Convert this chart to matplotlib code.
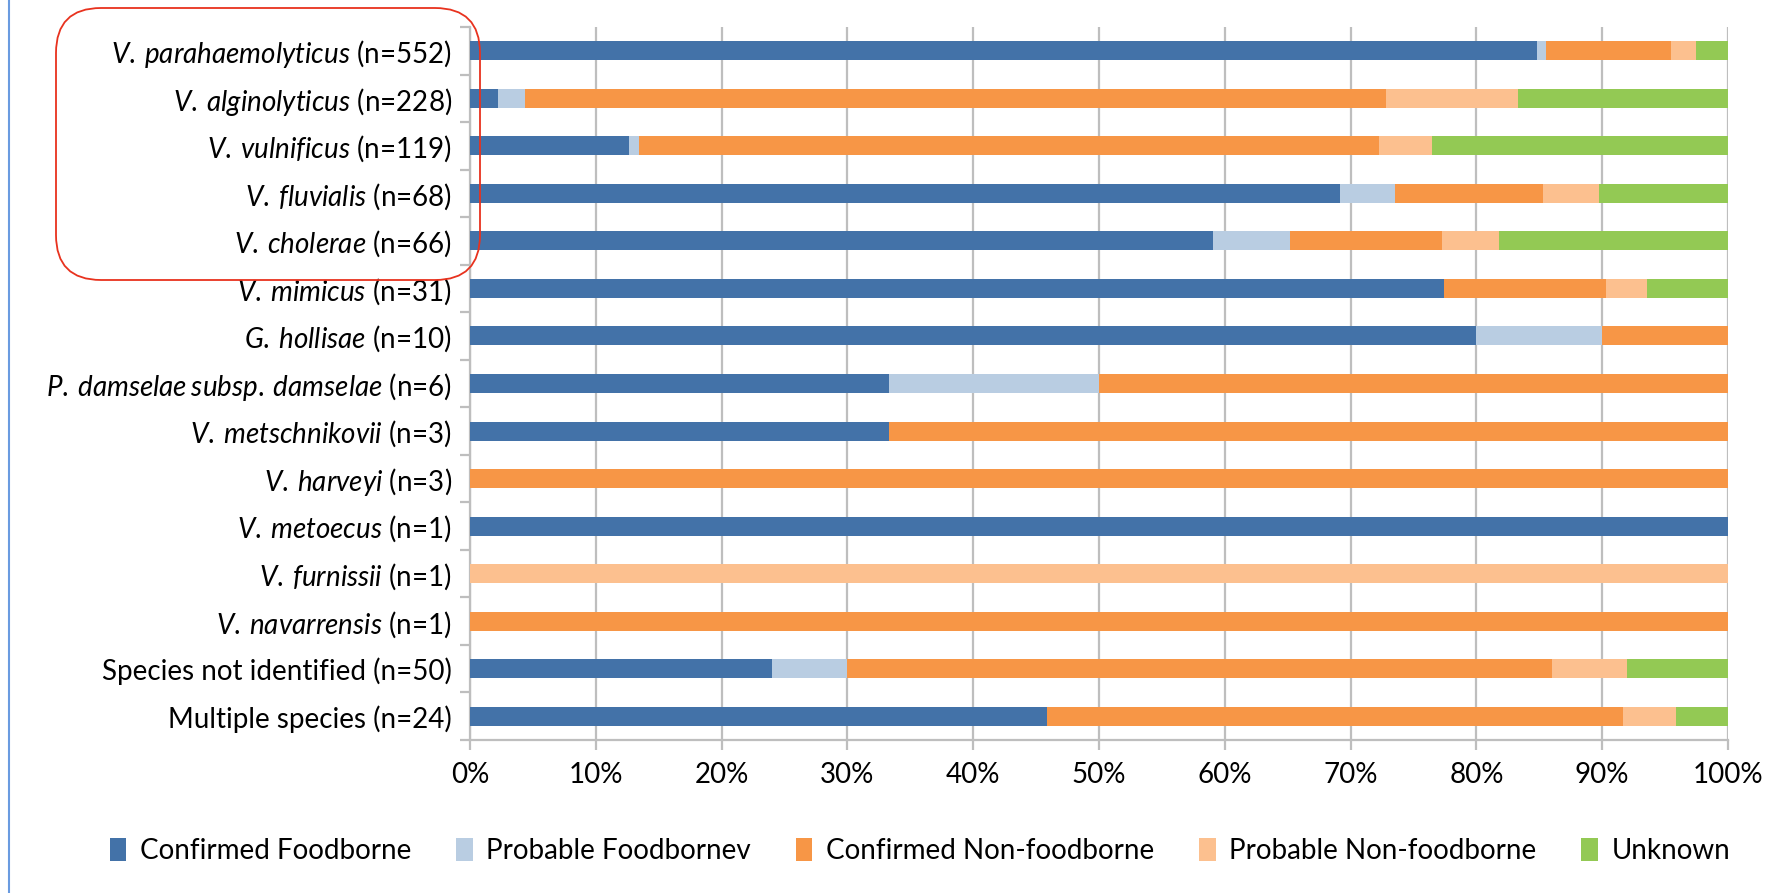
import matplotlib
matplotlib.use("Agg")
import matplotlib.pyplot as plt
import numpy as np
from matplotlib.patches import FancyBboxPatch
from matplotlib.lines import Line2D

plt.rcParams['font.family'] = ['Lato', 'DejaVu Sans']
plt.rcParams['mathtext.fontset'] = 'custom'
plt.rcParams['mathtext.rm'] = 'Lato'
plt.rcParams['mathtext.it'] = 'Lato:italic'

# species (italic part), plain part
species = ['V. parahaemolyticus', 'V. alginolyticus', 'V. vulnificus',
           'V. fluvialis', 'V. cholerae', 'V. mimicus', 'G. hollisae',
           'P. damselae subsp. damselae', 'V. metschnikovii', 'V. harveyi',
           'V. metoecus', 'V. furnissii', 'V. navarrensis',
           'Species not identified', 'Multiple species']
italic = [True] * 13 + [False, False]
totals = [552, 228, 119, 68, 66, 31, 10, 6, 3, 3, 1, 1, 1, 50, 24]

# case counts per category
confirmed_fb = [468, 5, 15, 47, 39, 24, 8, 2, 1, 0, 1, 0, 0, 12, 11]
probable_fb = [4, 5, 1, 3, 4, 0, 1, 1, 0, 0, 0, 0, 0, 3, 0]
confirmed_nfb = [55, 156, 70, 8, 8, 4, 1, 3, 2, 3, 0, 0, 1, 28, 11]
probable_nfb = [11, 24, 5, 3, 3, 1, 0, 0, 0, 0, 0, 1, 0, 3, 1]
unknown = [14, 38, 28, 7, 12, 2, 0, 0, 0, 0, 0, 0, 0, 4, 1]

series = ['Confirmed Foodborne', 'Probable Foodbornev', 'Confirmed Non-foodborne',
          'Probable Non-foodborne', 'Unknown']
colors = ['#4372A8', '#B9CDE2', '#F79646', '#FCC08F', '#93C954']

fig = plt.figure(figsize=(17.78, 8.93), dpi=100)
ax = fig.add_axes([470 / 1778, 1 - 740 / 893, 1258 / 1778, 713 / 893])

tot = np.array(totals, dtype=float)
y = np.arange(len(species))
left = np.zeros(len(species))
for name, vals, col in zip(series, [confirmed_fb, probable_fb, confirmed_nfb,
                                    probable_nfb, unknown], colors):
    w = np.array(vals) / tot
    ax.barh(y, w, left=left, height=0.4, color=col, label=name, zorder=3)
    left += w

ax.set_xlim(0, 1)
ax.set_ylim(len(species) - 0.5, -0.5)

grid_c = '#BEBEBE'
ax.set_xticks(np.arange(0, 1.01, 0.1))
ax.set_xticklabels([f'{int(round(v * 100))}%' for v in np.arange(0, 1.01, 0.1)])
ax.xaxis.grid(True, color=grid_c, linewidth=1.6, zorder=0)
ax.tick_params(axis='x', length=7, width=1.6, color=grid_c, pad=9, labelsize=20)

labels = []
for s, it, n in zip(species, italic, totals):
    if it:
        labels.append(r'$\it{' + s.replace(' ', r'\:') + '}$ ' + f'(n={n})')
    else:
        labels.append(f'{s} (n={n})')
ax.set_yticks(y)
ax.set_yticklabels(labels)
ax.set_yticks(np.arange(-0.5, len(species), 1), minor=True)
ax.tick_params(axis='y', which='major', length=0, pad=13, labelsize=20)
ax.tick_params(axis='y', which='minor', length=7, width=1.6, color=grid_c)

for sp in ['top', 'right']:
    ax.spines[sp].set_visible(False)
for sp in ['left', 'bottom']:
    ax.spines[sp].set_color(grid_c)
    ax.spines[sp].set_linewidth(1.6)

fig.legend(loc='center', bbox_to_anchor=(920 / 1778, 1 - 851 / 893), ncol=5,
           frameon=False, fontsize=20, handlelength=0.6, handleheight=0.9,
           handletextpad=0.5, columnspacing=1.6)

# red highlight box around first five species
box = FancyBboxPatch((0.56, 6.13), 4.24, 2.72,
                     boxstyle='round,pad=0,rounding_size=0.45',
                     transform=fig.dpi_scale_trans, fill=False,
                     edgecolor='#E8321E', linewidth=1.3, zorder=10)
fig.patches.append(box)

fig.lines.append(Line2D([9 / 1778, 9 / 1778], [0, 1], transform=fig.transFigure,
                        color='#6A9BE0', linewidth=1.5))

fig.savefig('out.png', dpi=100)
